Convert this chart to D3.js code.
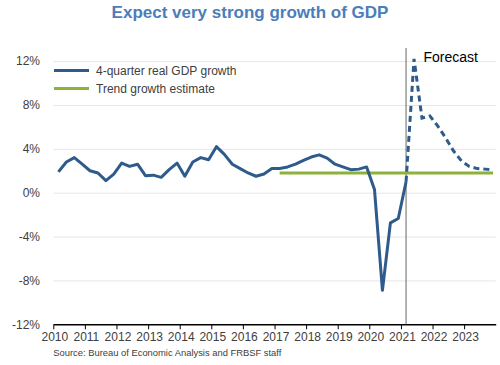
<!DOCTYPE html>
<html>
<head>
<meta charset="utf-8">
<script src="https://cdn.jsdelivr.net/npm/d3@7"></script>
<style>
  body { margin: 0; background: #fff; }
  svg { font-family: "Liberation Sans", Arial, sans-serif; }
</style>
</head>
<body>
<div id="container"></div>
<script>
// quarters 2010Q1 .. 2021Q1 (actual)
const actualQuarters = [
  "2010Q1","2010Q2","2010Q3","2010Q4","2011Q1","2011Q2","2011Q3","2011Q4",
  "2012Q1","2012Q2","2012Q3","2012Q4","2013Q1","2013Q2","2013Q3","2013Q4",
  "2014Q1","2014Q2","2014Q3","2014Q4","2015Q1","2015Q2","2015Q3","2015Q4",
  "2016Q1","2016Q2","2016Q3","2016Q4","2017Q1","2017Q2","2017Q3","2017Q4",
  "2018Q1","2018Q2","2018Q3","2018Q4","2019Q1","2019Q2","2019Q3","2019Q4",
  "2020Q1","2020Q2","2020Q3","2020Q4","2021Q1"
];
const actualGrowth = [
  1.9, 2.8, 3.2, 2.6, 2.0, 1.8, 1.1, 1.7,
  2.7, 2.4, 2.6, 1.55, 1.6, 1.4, 2.1, 2.7,
  1.5, 2.8, 3.2, 3.0, 4.2, 3.5, 2.6, 2.2,
  1.8, 1.5, 1.7, 2.2, 2.2, 2.35, 2.6, 2.95,
  3.25, 3.45, 3.15, 2.6, 2.35, 2.1, 2.15, 2.35,
  0.3, -8.9, -2.75, -2.35, 1.0
];
// forecast 2021Q1 .. 2023Q4
const forecastQuarters = [
  "2021Q1","2021Q2","2021Q3","2021Q4","2022Q1","2022Q2",
  "2022Q3","2022Q4","2023Q1","2023Q2","2023Q3","2023Q4"
];
const forecastGrowth = [1.0, 12.2, 6.8, 7.0, 6.1, 5.0, 3.8, 2.9, 2.4, 2.2, 2.15, 2.1];
// trend growth estimate
const trendQuarters = ["2017Q1", "2023Q4"];
const trendGrowth = [1.8, 1.8];

const yTicks = [12, 8, 4, 0, -4, -8, -12];
const yearTicks = [2010,2011,2012,2013,2014,2015,2016,2017,2018,2019,2020,2021,2022,2023];
const forecastStart = "2021Q1";

const W = 500, H = 365;
const blue = "#2e5b8b", green = "#8db23b";

// quarterly observations sit on the first day of the quarter's last month
const qDate = (s) => new Date(+s.slice(0, 4), (+s.slice(5)) * 3 - 1, 1);

const svg = d3.select("#container").append("svg")
  .attr("width", W)
  .attr("height", H);

const x = d3.scaleTime()
  .domain([new Date(2010, 0, 1), new Date(2024, 0, 1)])
  .range([53.3, 495.7]);

const y = d3.scaleLinear()
  .domain([-12, 12])
  .range([324.3, 61.1]);

// title
svg.append("text")
  .attr("x", 250)
  .attr("y", 18)
  .attr("text-anchor", "middle")
  .attr("font-size", 17)
  .attr("font-weight", "bold")
  .attr("fill", "#4a7ebb")
  .text("Expect very strong growth of GDP");

// horizontal grid lines
svg.append("g")
  .attr("transform", `translate(${x.range()[0]},0)`)
  .call(d3.axisLeft(y)
    .tickValues(yTicks.filter(d => d !== -12))
    .tickSize(-(x.range()[1] - x.range()[0]))
    .tickFormat(""))
  .call(g => g.select(".domain").remove())
  .call(g => g.selectAll("line").attr("stroke", "#e6e6e6").attr("stroke-width", 1));

// y labels
svg.append("g")
  .selectAll("text")
  .data(yTicks)
  .enter()
  .append("text")
  .attr("x", 40)
  .attr("y", d => y(d))
  .attr("dy", "0.35em")
  .attr("text-anchor", "end")
  .attr("font-size", 12)
  .attr("fill", "#404040")
  .text(d => d + "%");

// x axis
const xAxis = svg.append("g")
  .attr("transform", `translate(0,${y(-12)})`)
  .call(d3.axisBottom(x)
    .tickValues(yearTicks.map(d => new Date(d, 0, 1)))
    .tickSize(5)
    .tickSizeOuter(0)
    .tickFormat(d3.timeFormat("%Y")));
xAxis.select(".domain").attr("stroke", "#000").attr("stroke-width", 1.6);
xAxis.selectAll(".tick line").attr("stroke", "#000").attr("stroke-width", 1);
xAxis.selectAll(".tick text")
  .attr("font-size", 12)
  .attr("font-family", "Liberation Sans, Arial, sans-serif")
  .attr("fill", "#404040")
  .attr("dx", 1)
  .attr("y", 8);

// source
svg.append("text")
  .attr("x", 53.3)
  .attr("y", 356)
  .attr("font-size", 9.4)
  .attr("fill", "#404040")
  .text("Source: Bureau of Economic Analysis and FRBSF staff");

// forecast divider
svg.append("line")
  .attr("x1", x(qDate(forecastStart)))
  .attr("x2", x(qDate(forecastStart)))
  .attr("y1", 48)
  .attr("y2", y(-12))
  .attr("stroke", "#666")
  .attr("stroke-width", 1);

svg.append("text")
  .attr("x", 423.5)
  .attr("y", 61.5)
  .attr("font-size", 14)
  .attr("fill", "#000")
  .text("Forecast");

const line = d3.line()
  .x(d => x(qDate(d[0])))
  .y(d => y(d[1]));

// trend
svg.append("path")
  .attr("d", line(d3.zip(trendQuarters, trendGrowth)))
  .attr("fill", "none")
  .attr("stroke", green)
  .attr("stroke-width", 3);

// actual
svg.append("path")
  .attr("d", line(d3.zip(actualQuarters, actualGrowth)))
  .attr("fill", "none")
  .attr("stroke", blue)
  .attr("stroke-width", 3)
  .attr("stroke-linejoin", "round");

// forecast
svg.append("path")
  .attr("d", line(d3.zip(forecastQuarters, forecastGrowth)))
  .attr("fill", "none")
  .attr("stroke", blue)
  .attr("stroke-width", 3)
  .attr("stroke-dasharray", "6,4");

// legend
const legend = [
  { label: "4-quarter real GDP growth", color: blue, y: 70.5 },
  { label: "Trend growth estimate", color: green, y: 88.5 }
];
const lg = svg.append("g").selectAll("g")
  .data(legend)
  .enter()
  .append("g");
lg.append("line")
  .attr("x1", 54).attr("x2", 89)
  .attr("y1", d => d.y).attr("y2", d => d.y)
  .attr("stroke", d => d.color)
  .attr("stroke-width", 3);
lg.append("text")
  .attr("x", 96)
  .attr("y", d => d.y)
  .attr("dy", "0.35em")
  .attr("font-size", 12)
  .attr("fill", "#404040")
  .text(d => d.label);
</script>
</body>
</html>
